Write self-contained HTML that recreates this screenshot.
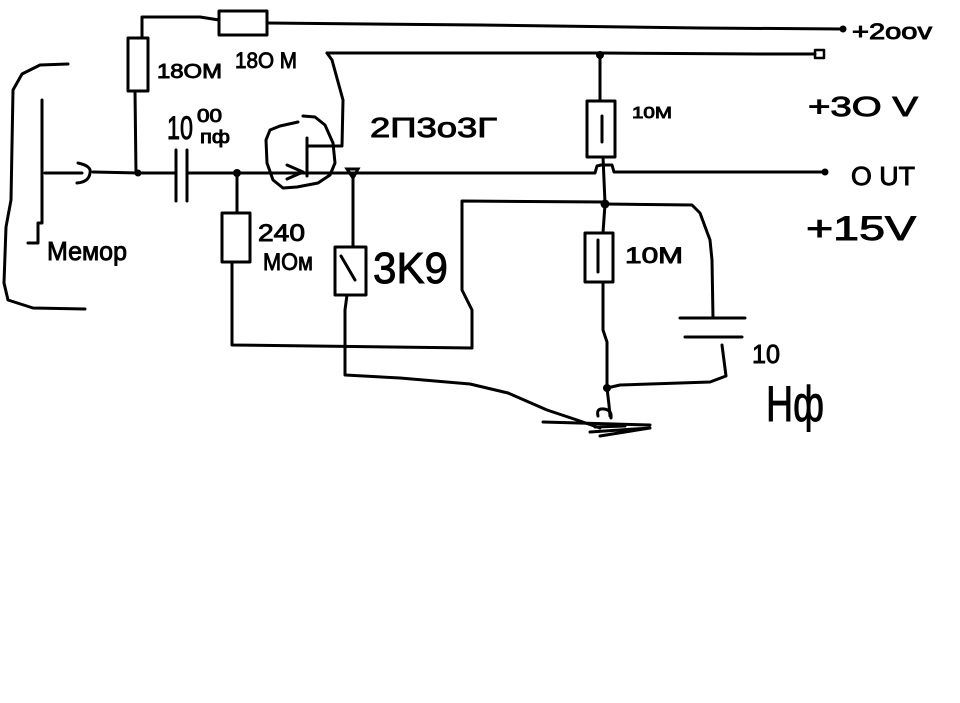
<!DOCTYPE html>
<html>
<head>
<meta charset="utf-8">
<style>
html,body{margin:0;padding:0;background:#fff;}
svg{display:block;}
text{font-family:"Liberation Sans","DejaVu Sans",sans-serif;fill:#000;stroke:#000;stroke-width:0.9;}
</style>
</head>
<body>
<svg width="960" height="703" viewBox="0 0 960 703" xmlns="http://www.w3.org/2000/svg">
<rect width="960" height="703" fill="#fff"/>
<g fill="none" stroke="#000" stroke-width="3" stroke-linejoin="round" stroke-linecap="round">
  <!-- left bracket -->
  <polyline points="68,64 40,65 22,74 13,90 11,200 6,227 4,283 8,300 33,308 85,309"/>
  <polyline points="42,100 42,223 38,223 38,243 28,243"/>
  <!-- input line -->
  <polyline points="45,173 82,173"/>
  <path d="M78,163 Q92,166 90,173 Q89,182 77,183"/>
  <polyline points="93,172 138,173 175,173"/>
  <!-- coupling capacitor -->
  <line x1="176" y1="150" x2="176" y2="201"/>
  <line x1="187" y1="150" x2="187" y2="201"/>
  <!-- signal line -->
  <polyline points="188,173 400,173 595,173 597,166 601,165 612,165 614,172 700,172 825,172"/>
  <!-- 180M vertical resistor and top 200V line -->
  <polyline points="136,173 135,91"/>
  <rect x="128" y="38" width="20" height="53"/>
  <polyline points="142,38 142,17 200,17 219,20"/>
  <rect x="219" y="11" width="48" height="24"/>
  <polyline points="267,23 480,25 700,28 843,29"/>
  <!-- 30V line -->
  <polyline points="327,53 600,53 760,54 815,54"/>
  <rect x="815" y="50" width="9" height="8" stroke-width="2.5"/>
  <!-- drain -->
  <polyline points="327,53 332,60 343,100 342,146 307,146"/>
  <!-- gate bar -->
  <line x1="307" y1="138" x2="307" y2="176"/>
  <!-- arrow -->
  <polyline points="287,165 303,172 287,179"/>
  <!-- transistor loop -->
  <path d="M303,116 L315,117 L325,125 L333,143 L335,163 L330,175 L318,183 L297,187 L283,188 L273,180 L267,163 L266,140 L270,130 L280,126 L298,122"/>
  <!-- upper 10M -->
  <line x1="600" y1="55" x2="600" y2="101"/>
  <rect x="587" y="101" width="28" height="56"/>
  <line x1="602" y1="116" x2="602" y2="142"/>
  <polyline points="603,157 604,180 605,203"/>
  <!-- 15V node left loop -->
  <polyline points="605,202 462,201 462,290 472,310 472,348 232,345 232,262"/>
  <!-- 240M -->
  <line x1="237" y1="173" x2="237" y2="213"/>
  <rect x="222" y="213" width="28" height="49"/>
  <!-- 3K9 -->
  <line x1="353" y1="175" x2="353" y2="247"/>
  <rect x="335" y="247" width="31" height="48"/>
  <line x1="341" y1="256" x2="355" y2="280"/>
  <polyline points="347,295 345,310 345,375 400,378 470,384 508,393 547,410 577,420 600,428"/>
  <!-- lower 10M -->
  <line x1="605" y1="204" x2="603" y2="233"/>
  <rect x="585" y="233" width="28" height="49"/>
  <line x1="598" y1="240" x2="598" y2="272"/>
  <polyline points="603,282 603,330 607,342 607,388 609,405 610,416"/>
  <!-- right capacitor branch -->
  <polyline points="605,204 692,205 700,213 710,240 712,260 713,318"/>
  <line x1="680" y1="318" x2="745" y2="318"/>
  <line x1="685" y1="337" x2="742" y2="337"/>
  <polyline points="722,345 726,376 710,382 620,385 607,388"/>
  <!-- ground scribble -->
  <line x1="543" y1="422" x2="650" y2="425"/>
  <polyline points="590,432 650,428 600,436"/>
  <path d="M598,416 Q596,408 604,409 Q612,410 611,418"/>
  <line x1="595" y1="427" x2="625" y2="426"/>
</g>
<!-- dots -->
<g fill="#000">
  <circle cx="843" cy="29" r="3.5"/>
  <circle cx="138" cy="173" r="3.5"/>
  <circle cx="600" cy="55" r="4"/>
  <circle cx="237" cy="173" r="4"/>
  <path d="M347,169 L358,169 L353,178 Z" fill="none" stroke="#000" stroke-width="3"/>
  <circle cx="825" cy="172" r="3.5"/>
  <circle cx="605" cy="204" r="4.5"/>
  <circle cx="607" cy="388" r="4"/>
</g>
<!-- labels -->
<text x="157" y="78" font-size="20" textLength="65" lengthAdjust="spacingAndGlyphs">18OM</text>
<text x="235" y="68" font-size="22" textLength="62" lengthAdjust="spacingAndGlyphs">18O M</text>
<text x="852" y="39" font-size="22" textLength="80" lengthAdjust="spacingAndGlyphs">+2oov</text>
<text x="808" y="116" font-size="28" textLength="110" lengthAdjust="spacingAndGlyphs">+3O V</text>
<text x="851" y="185" font-size="26" textLength="64" lengthAdjust="spacingAndGlyphs">O UT</text>
<text x="806" y="240" font-size="34" textLength="110" lengthAdjust="spacingAndGlyphs">+15V</text>
<text x="370" y="137" font-size="28" textLength="127" lengthAdjust="spacingAndGlyphs">2П3о3Г</text>
<text x="167" y="139" font-size="32" textLength="26" lengthAdjust="spacingAndGlyphs">10</text>
<text x="197" y="122" font-size="18" textLength="25" lengthAdjust="spacingAndGlyphs">00</text>
<text x="200" y="143" font-size="18" textLength="30" lengthAdjust="spacingAndGlyphs">пф</text>
<text x="258" y="241" font-size="24" textLength="47" lengthAdjust="spacingAndGlyphs">240</text>
<text x="263" y="270" font-size="24" textLength="50" lengthAdjust="spacingAndGlyphs">МОм</text>
<text x="373" y="283" font-size="44" textLength="75" lengthAdjust="spacingAndGlyphs">3K9</text>
<text x="632" y="118" font-size="16" textLength="40" lengthAdjust="spacingAndGlyphs">10M</text>
<text x="625" y="263" font-size="22" textLength="58" lengthAdjust="spacingAndGlyphs">10M</text>
<text x="47" y="260" font-size="26" textLength="80" lengthAdjust="spacingAndGlyphs">Мемор</text>
<text x="752" y="363" font-size="26" textLength="28" lengthAdjust="spacingAndGlyphs">10</text>
<text x="766" y="421" font-size="50" textLength="58" lengthAdjust="spacingAndGlyphs">Нф</text>
</svg>
</body>
</html>
